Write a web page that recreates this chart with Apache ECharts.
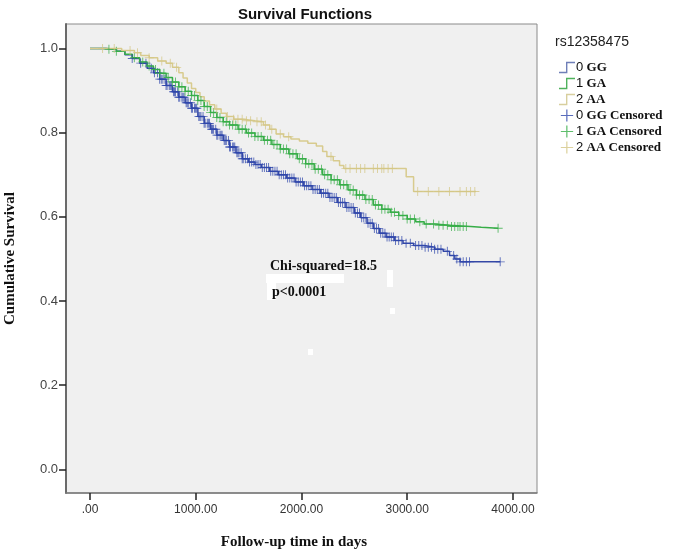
<!DOCTYPE html>
<html>
<head>
<meta charset="utf-8">
<script src="https://cdn.jsdelivr.net/npm/echarts@6/dist/echarts.min.js"></script>
<style>html,body{margin:0;padding:0;background:#fff}#c{width:678px;height:552px}</style>
</head>
<body>
<div id="c"></div>
<script>
// ---- data ----
const seriesNames = ['0 GG', '1 GA', '2 AA'];
const censorNames = ['0 GG Censored', '1 GA Censored', '2 AA Censored'];
const xTickValues = [0, 1000, 2000, 3000, 4000];
const xTickLabels = ['.00', '1000.00', '2000.00', '3000.00', '4000.00'];
const yTickValues = [0, 0.2, 0.4, 0.6, 0.8, 1.0];
const yTickLabels = ['0.0', '0.2', '0.4', '0.6', '0.8', '1.0'];

const curveGG = [[0,1],[150,0.998],[250,0.993],[330,0.985],[400,0.976],[470,0.965],[540,0.953],[600,0.942],[660,0.927],[720,0.912],[780,0.897],[840,0.884],[900,0.871],[960,0.858],[1020,0.838],[1080,0.822],[1140,0.808],[1200,0.794],[1260,0.781],[1320,0.766],[1380,0.752],[1440,0.738],[1500,0.73],[1560,0.724],[1620,0.717],[1700,0.708],[1780,0.7],[1860,0.692],[1940,0.683],[2020,0.674],[2100,0.665],[2180,0.656],[2260,0.646],[2340,0.634],[2420,0.622],[2500,0.609],[2560,0.598],[2620,0.585],[2680,0.572],[2740,0.561],[2800,0.552],[2880,0.544],[2960,0.537],[3060,0.532],[3160,0.528],[3260,0.523],[3340,0.518],[3400,0.508],[3450,0.5],[3500,0.493],[3880,0.493]];
const curveGA = [[0,1],[150,0.998],[250,0.993],[330,0.986],[400,0.978],[470,0.968],[540,0.958],[600,0.95],[660,0.941],[720,0.931],[780,0.92],[840,0.909],[900,0.898],[960,0.888],[1020,0.876],[1080,0.862],[1140,0.848],[1200,0.836],[1260,0.826],[1320,0.818],[1400,0.808],[1480,0.799],[1560,0.791],[1640,0.782],[1720,0.772],[1800,0.761],[1880,0.75],[1960,0.738],[2040,0.726],[2120,0.713],[2200,0.7],[2280,0.688],[2360,0.676],[2440,0.664],[2520,0.652],[2600,0.641],[2680,0.628],[2760,0.618],[2840,0.611],[2920,0.603],[3000,0.595],[3080,0.588],[3160,0.583],[3260,0.58],[3400,0.577],[3600,0.575],[3700,0.573],[3860,0.573]];
const curveAA = [[0,1],[300,0.995],[420,0.99],[480,0.983],[560,0.978],[640,0.97],[720,0.965],[780,0.955],[840,0.942],[880,0.93],[920,0.918],[960,0.905],[1000,0.895],[1040,0.885],[1080,0.875],[1130,0.866],[1180,0.856],[1240,0.846],[1290,0.838],[1360,0.832],[1450,0.828],[1560,0.826],[1640,0.818],[1700,0.808],[1760,0.797],[1830,0.79],[1900,0.785],[1980,0.78],[2060,0.775],[2140,0.768],[2200,0.755],[2240,0.743],[2300,0.733],[2360,0.722],[2400,0.715],[2990,0.695],[3060,0.66],[3650,0.66]];

const censorGG = [400,480,530,580,610,640,660,675,690,710,720,730,750,760,770,790,800,810,830,840,850,870,880,890,910,920,930,950,960,970,990,1000,1010,1030,1040,1050,1070,1080,1090,1110,1120,1130,1150,1160,1170,1190,1200,1210,1230,1240,1250,1270,1280,1290,1310,1320,1330,1350,1360,1370,1390,1400,1410,1430,1440,1450,1470,1490,1510,1530,1550,1570,1590,1610,1630,1650,1670,1690,1710,1730,1750,1770,1790,1810,1830,1850,1870,1890,1910,1930,1950,1970,1990,2010,2030,2050,2070,2090,2110,2130,2150,2170,2190,2210,2230,2250,2270,2290,2310,2330,2350,2370,2390,2410,2430,2450,2470,2490,2510,2530,2550,2570,2590,2610,2630,2650,2670,2690,2710,2730,2750,2770,2790,2810,2830,2850,2870,2890,2920,2950,2990,3030,3080,3110,3140,3170,3200,3230,3260,3290,3320,3380,3440,3470,3500,3530,3560,3590,3880];
const censorGA = [180,250,420,500,560,620,660,700,740,780,810,840,870,900,930,960,990,1020,1050,1080,1110,1140,1170,1200,1230,1260,1290,1320,1350,1380,1410,1440,1470,1500,1530,1560,1590,1620,1650,1680,1710,1740,1770,1800,1830,1860,1890,1920,1950,1980,2010,2040,2070,2100,2130,2160,2190,2220,2250,2280,2310,2340,2370,2400,2430,2460,2490,2520,2550,2580,2610,2640,2670,2700,2730,2760,2790,2820,2850,2880,2920,2960,3000,3030,3070,3120,3180,3250,3300,3340,3380,3420,3450,3480,3500,3530,3560,3860];
const censorAA = [120,230,380,450,560,680,760,820,1200,1300,1360,1400,1440,1480,1520,1580,1620,1660,1720,1800,1880,2280,2420,2460,2520,2560,2600,2680,2720,2760,2780,2820,2860,3100,3200,3300,3400,3500,3560,3600,3640];

// ---- build ----
function valueAt(curve, t) {
  let v = curve[0][1];
  for (const p of curve) { if (p[0] <= t) v = p[1]; else break; }
  return v;
}
const curves = [curveGG, curveGA, curveAA];
const censors = [censorGG, censorGA, censorAA];
const lineColors = ['#3548a6', '#36ad47', '#d8cb8e'];
const markColors = ['#2f47ab', '#37ae48', '#d3c584'];
const legendColors = ['#6f7fb8', '#4fb25d', '#d8cf9e'];
const stepIcon = 'path://M0,10L7,10L7,0L16,0L16,1.4L8.4,1.4L8.4,11.4L0,11.4Z';
const plusIcon = 'path://M7,0h1.6v7h7.4v1.6h-7.4v7h-1.6v-7h-7v-1.6h7z';

const series = [];
curves.forEach((c, i) => {
  series.push({
    name: seriesNames[i], type: 'line', step: 'end', data: c,
    showSymbol: false, symbol: 'none', color: legendColors[i],
    lineStyle: { color: lineColors[i], width: 1.5 }, animation: false, z: 2 + i
  });
});
censors.forEach((ts, i) => {
  series.push({
    name: censorNames[i], type: 'scatter', color: legendColors[i],
    data: ts.map(t => [t, valueAt(curves[i], t)]),
    symbol: plusIcon, symbolSize: 9,
    itemStyle: { color: markColors[i] }, animation: false, z: 5 + i
  });
});

const chart = echarts.init(document.getElementById('c'));
chart.setOption({
  backgroundColor: '#ffffff',
  animation: false,
  title: {
    text: 'Survival Functions', left: 300, top: 2, textAlign: 'center',
    textStyle: { fontFamily: 'Liberation Sans, Arial, sans-serif', fontWeight: 'bold', fontSize: 15, color: '#111' }
  },
  grid: {
    left: 66, right: 141, top: 24, bottom: 59, show: true,
    outerBoundsMode: 'none', containLabel: false,
    backgroundColor: '#f0f0f0', borderColor: '#8a8a8a', borderWidth: 1
  },
  legend: {
    orient: 'vertical', left: 554, top: 56, itemGap: 3, itemWidth: 16, itemHeight: 12,
    data: [
      { name: seriesNames[0], icon: stepIcon }, { name: seriesNames[1], icon: stepIcon }, { name: seriesNames[2], icon: stepIcon },
      { name: censorNames[0], icon: plusIcon }, { name: censorNames[1], icon: plusIcon }, { name: censorNames[2], icon: plusIcon }
    ],
    formatter: function (name) {
      const parts = name.split(' ');
      return '{n|' + parts[0] + '} {b|' + parts.slice(1).join(' ') + '}';
    },
    textStyle: {
      padding: [0, 0, 0, -4],
      rich: {
        n: { fontFamily: 'Liberation Sans, Arial, sans-serif', fontSize: 13, color: '#111', lineHeight: 13 },
        b: { fontFamily: 'Liberation Serif, Times New Roman, serif', fontWeight: 'bold', fontSize: 13, color: '#111', lineHeight: 13 }
      }
    },
    selectedMode: false
  },
  xAxis: {
    type: 'value', min: -227, max: 4227,
    name: 'Follow-up time in days', nameLocation: 'middle', nameGap: 42,
    nameTextStyle: { fontFamily: 'Liberation Serif, Times New Roman, serif', fontWeight: 'bold', fontSize: 15, color: '#111', padding: [0, 15, 0, 0] },
    axisLine: { show: true, onZero: false, lineStyle: { color: '#7a7a7a', width: 1.5 } },
    axisTick: { show: true, inside: false, customValues: xTickValues, length: 7, lineStyle: { color: '#222', width: 1.5 } },
    axisLabel: {
      customValues: xTickValues, margin: 11,
      formatter: v => xTickLabels[xTickValues.indexOf(v)] ?? '',
      fontFamily: 'Liberation Sans, Arial, sans-serif', fontSize: 12, color: '#333'
    },
    splitLine: { show: false }
  },
  yAxis: {
    type: 'value', min: -0.056, max: 1.058,
    name: 'Cumulative Survival', nameLocation: 'middle', nameGap: 48, nameRotate: 90,
    nameTextStyle: { fontFamily: 'Liberation Serif, Times New Roman, serif', fontWeight: 'bold', fontSize: 15, color: '#111' },
    axisLine: { show: true, onZero: false, lineStyle: { color: '#6a6a6a', width: 2 } },
    axisTick: { show: true, inside: false, customValues: yTickValues, length: 7, lineStyle: { color: '#222', width: 1.5 } },
    axisLabel: {
      customValues: yTickValues, margin: 8,
      formatter: v => { const i = yTickValues.findIndex(t => Math.abs(t - v) < 1e-9); return i >= 0 ? yTickLabels[i] : ''; },
      fontFamily: 'Liberation Sans, Arial, sans-serif', fontSize: 13, color: '#444'
    },
    splitLine: { show: false }
  },
  graphic: [
    { type: 'text', left: 555, top: 35, style: { text: 'rs12358475', font: '14px "Liberation Sans", Arial, sans-serif', fill: '#222' } },
    { type: 'rect', shape: { x: 266, y: 274, width: 78, height: 9 }, style: { fill: '#ffffff' }, z: 20 },
    { type: 'rect', shape: { x: 267, y: 280, width: 9, height: 20 }, style: { fill: '#ffffff' }, z: 20 },
    { type: 'rect', shape: { x: 387, y: 270, width: 6, height: 17 }, style: { fill: '#ffffff' }, z: 20 },
    { type: 'rect', shape: { x: 390, y: 308, width: 5, height: 6 }, style: { fill: '#ffffff' }, z: 20 },
    { type: 'rect', shape: { x: 308, y: 349, width: 5, height: 6 }, style: { fill: '#ffffff' }, z: 20 },
    { type: 'text', left: 270, top: 259, z: 30, style: { text: 'Chi-squared=18.5', font: 'bold 14px "Liberation Serif", "Times New Roman", serif', fill: '#111' } },
    { type: 'text', left: 272, top: 285, z: 30, style: { text: 'p<0.0001', font: 'bold 14px "Liberation Serif", "Times New Roman", serif', fill: '#111' } }
  ],
  series: series
});
</script>
</body>
</html>
